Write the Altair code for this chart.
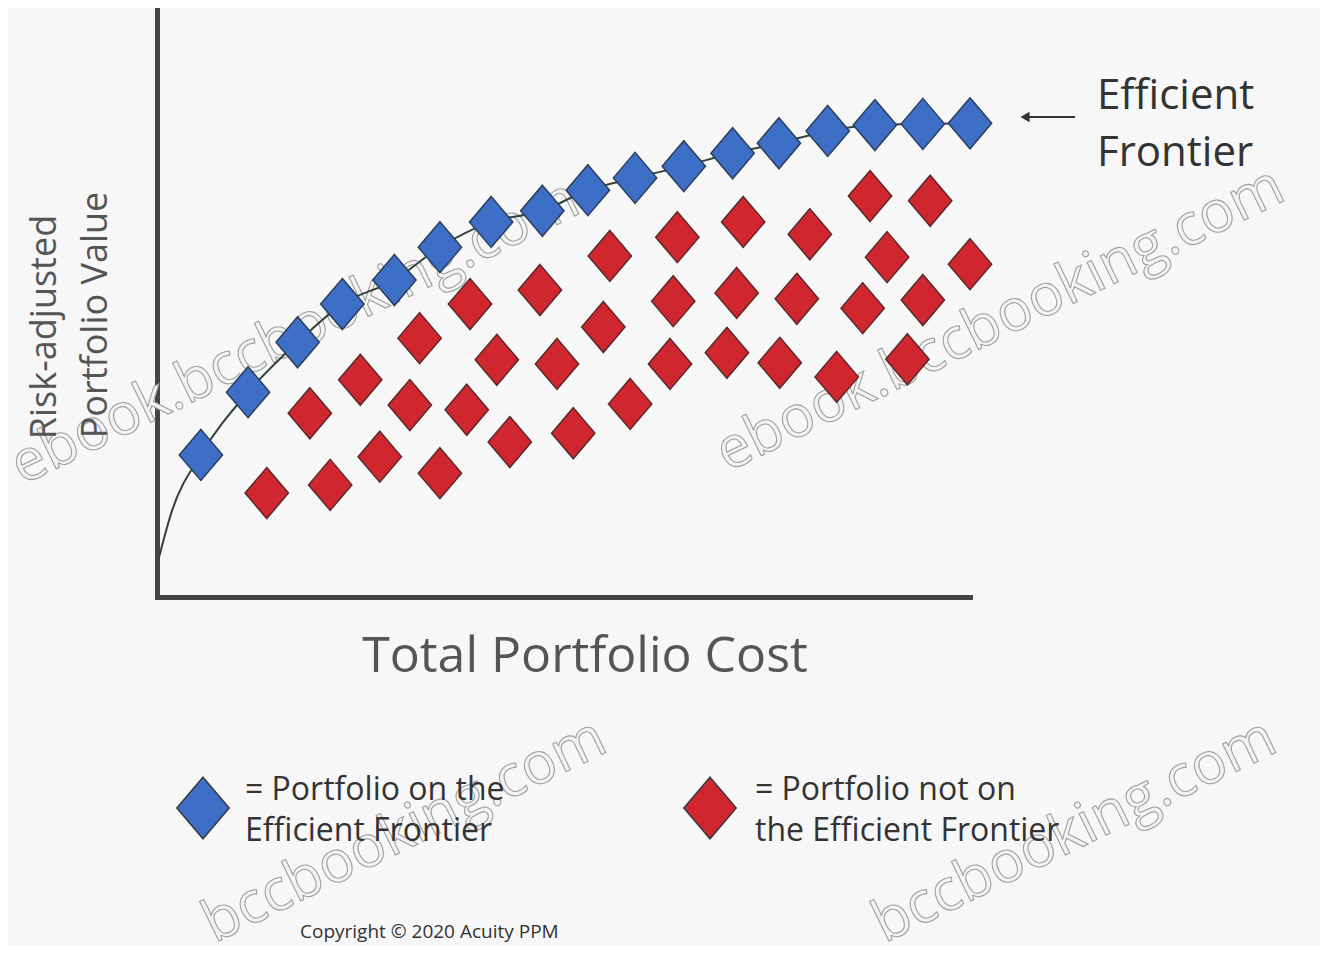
import altair as alt
import pandas as pd

# ---- data (cost 0-100, value 0-100) ----
frontier_cost = [5.4, 11.2, 17.3, 22.8, 29.2, 34.8, 41.1, 47.4, 53.0, 58.8, 64.8, 70.8, 76.5, 82.5, 88.3, 94.2, 100.0]
frontier_value = [24.2, 34.9, 43.4, 49.9, 54.0, 59.6, 63.9, 65.8, 69.3, 71.4, 73.4, 75.6, 77.3, 79.4, 80.4, 80.6, 80.7]

curve_cost = [0.2, 1.8, 5.4, 11.2, 17.3, 22.8, 29.2, 34.8, 41.1, 47.4, 53.0, 58.8, 64.8, 70.8, 76.5, 82.5, 88.3, 94.2, 100.0]
curve_value = [6.5, 14.5, 24.2, 34.9, 43.4, 49.9, 54.0, 59.6, 63.9, 65.8, 69.3, 71.4, 73.4, 75.6, 77.3, 79.4, 80.4, 80.6, 80.7]

other_cost = [13.5, 21.3, 27.4, 34.8, 43.4, 51.2, 58.2,
              18.8, 25.0, 31.1, 38.1,
              32.3, 41.8, 49.2, 54.9, 63.1, 70.1, 76.6, 83.6, 92.3,
              38.5, 47.1, 63.5, 71.3, 78.7, 86.8, 94.2,
              55.7, 64.0, 72.1, 80.3, 89.8, 100.0,
              87.7, 95.1]
other_value = [17.7, 19.1, 23.9, 21.1, 26.4, 27.9, 32.9,
               31.3, 37.0, 32.7, 31.9,
               44.1, 40.4, 39.7, 46.0, 39.7, 41.6, 39.9, 37.5, 40.5,
               49.9, 52.3, 50.4, 51.8, 50.8, 49.2, 50.6,
               58.1, 61.3, 63.9, 61.8, 57.9, 56.7,
               68.3, 67.5]

series_names = ["On the Efficient Frontier", "Not on the Efficient Frontier"]
series_colors = ["#3d6fc7", "#d0262f"]

x_title = "Total Portfolio Cost"
y_title_lines = ["Risk-adjusted", "Portfolio Value"]
frontier_label = ["Efficient", "Frontier"]
legend_on = ["= Portfolio on the", "Efficient Frontier"]
legend_off = ["= Portfolio not on", "the Efficient Frontier"]
copyright_text = "Copyright \u00a9 2020 Acuity PPM"
watermark = "ebook.bccbooking.com"
watermark_part = "bccbooking.com"

DIAMOND = "M0,-1L0.85,0L0,1L-0.85,0Z"
FONT = "Open Sans"

df_front = pd.DataFrame({"cost": frontier_cost, "value": frontier_value, "series": series_names[0]})
df_curve = pd.DataFrame({"cost": curve_cost, "value": curve_value})
df_other = pd.DataFrame({"cost": other_cost, "value": other_value, "series": series_names[1]})

xs = alt.Scale(domain=[0, 100], nice=False, zero=False)
ys = alt.Scale(domain=[0, 100], nice=False, zero=False)
color_scale = alt.Scale(domain=series_names, range=series_colors)

axis_style = dict(domain=True, domainColor="#454545", domainWidth=5, domainCap="square",
                  ticks=False, labels=False, grid=False, title=None)


def text_layer(txt, px, py, size, color="#333333", angle=0, align="left", weight="normal",
               stroke=None, stroke_width=0):
    kw = dict(align=align, baseline="middle", fontSize=size, font=FONT, angle=angle,
              fontWeight=weight, color=color)
    if stroke is not None:
        kw["stroke"] = stroke
        kw["strokeWidth"] = stroke_width
    return alt.Chart(pd.DataFrame({"label": [txt]})).mark_text(**kw).encode(
        x=alt.value(px), y=alt.value(py), text="label:N")


layers = []

# watermarks (under the markers)
for (txt, px, py) in [(watermark, -142, 460), (watermark, 563, 447),
                      (watermark_part, 50, 918), (watermark_part, 720, 918)]:
    layers.append(text_layer(txt, px, py, 58, color="#f3f3f3", angle=334,
                             stroke="#a0a0a0", stroke_width=1.1))

curve = alt.Chart(df_curve).mark_line(color="#33443a", strokeWidth=2, interpolate="monotone").encode(
    x=alt.X("cost:Q", scale=xs, axis=alt.Axis(**axis_style)),
    y=alt.Y("value:Q", scale=ys, axis=alt.Axis(**axis_style)),
)
layers.append(curve)

others = alt.Chart(df_other).mark_point(shape=DIAMOND, filled=True, size=2600, opacity=1,
                                        stroke="#5a2a2a", strokeWidth=1.5).encode(
    x=alt.X("cost:Q", scale=xs),
    y=alt.Y("value:Q", scale=ys),
    color=alt.Color("series:N", scale=color_scale, legend=None),
)
front = alt.Chart(df_front).mark_point(shape=DIAMOND, filled=True, size=2600, opacity=1,
                                       stroke="#2b3f5c", strokeWidth=1.5).encode(
    x=alt.X("cost:Q", scale=xs),
    y=alt.Y("value:Q", scale=ys),
    color=alt.Color("series:N", scale=color_scale, legend=None),
)
layers += [others, front]

# arrow to the frontier
layers.append(alt.Chart(pd.DataFrame({"a": [0]})).mark_rule(color="#333333", strokeWidth=2).encode(
    x=alt.value(918), x2=alt.value(870), y=alt.value(107)))
layers.append(alt.Chart(pd.DataFrame({"a": [0]})).mark_point(
    shape="triangle-left", filled=True, size=110, color="#333333", opacity=1).encode(
    x=alt.value(868), y=alt.value(107)))

layers.append(text_layer(frontier_label[0], 940, 86, 42))
layers.append(text_layer(frontier_label[1], 940, 143, 42))

# axis titles
layers.append(text_layer(x_title, 428, 647, 50, color="#555555", align="center"))
layers.append(text_layer(y_title_lines[0], -112, 317, 36, color="#555555", angle=270, align="center"))
layers.append(text_layer(y_title_lines[1], -61, 305, 36, color="#555555", angle=270, align="center"))

# legend
for name, px in [(series_names[0], 46), (series_names[1], 553)]:
    layers.append(alt.Chart(pd.DataFrame({"series": [name]})).mark_point(
        shape=DIAMOND, filled=True, size=3800, opacity=1, stroke="#3a3a3a", strokeWidth=1.5).encode(
        x=alt.value(px), y=alt.value(798),
        color=alt.Color("series:N", scale=color_scale, legend=None)))
layers.append(text_layer(legend_on[0], 88, 780, 32))
layers.append(text_layer(legend_on[1], 88, 821, 32))
layers.append(text_layer(legend_off[0], 598, 780, 32))
layers.append(text_layer(legend_off[1], 598, 821, 32))

layers.append(text_layer(copyright_text, 143, 922, 19))

chart = alt.layer(*layers).properties(
    width=813, height=587,
    autosize=alt.AutoSizeParams(type="none"),
    padding={"left": 149, "top": 2, "right": 350, "bottom": 348},
    background="#f7f7f7",
).configure_view(stroke=None)

chart.save("out.html", embed_options={"renderer": "svg", "actions": False})
